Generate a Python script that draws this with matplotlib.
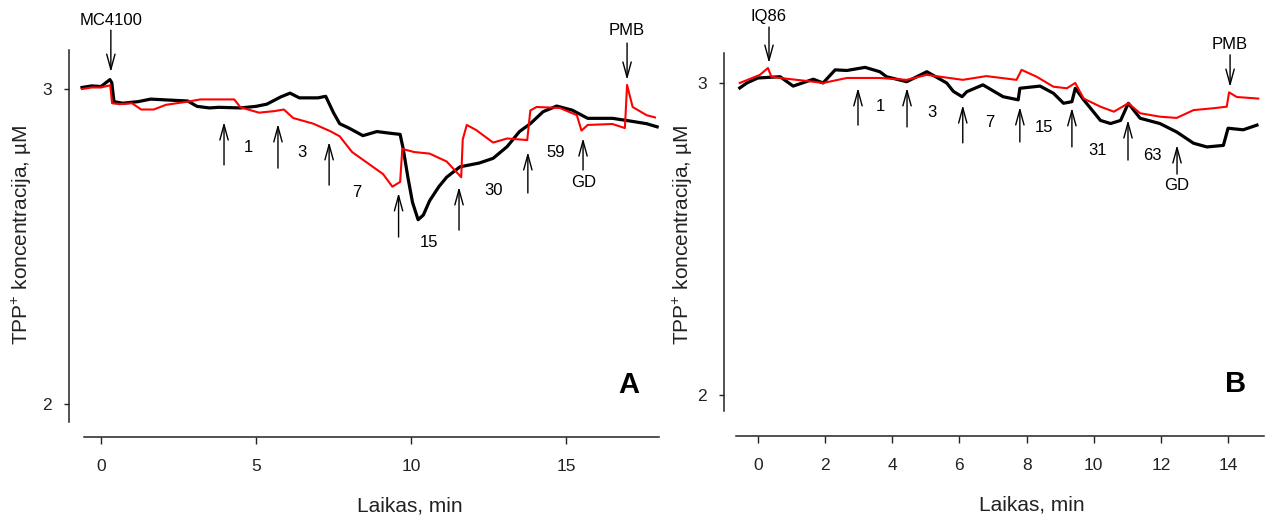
import matplotlib
matplotlib.use("Agg")
import matplotlib.pyplot as plt

plt.rcParams['font.family'] = ['Liberation Sans', 'DejaVu Sans']
plt.rcParams['mathtext.fontset'] = 'custom'
plt.rcParams['mathtext.rm'] = 'Liberation Sans'
plt.rcParams['mathtext.it'] = 'Liberation Sans:italic'

# ---------------- Panel A data (time, min ; TPP+ concentration, uM) ----------------
a_black_t = [-0.61, -0.3, 0.0, 0.29, 0.35, 0.42, 0.7, 1.2, 1.6, 2.2, 2.8, 3.1, 3.5, 3.8, 4.5, 5.0,
             5.35, 5.8, 6.1, 6.4, 7.0, 7.25, 7.5, 7.7, 8.0, 8.45, 8.9, 9.3, 9.65, 9.75, 9.9, 10.05,
             10.23, 10.4, 10.6, 10.9, 11.15, 11.58, 12.2, 12.65, 13.1, 13.5, 13.85, 14.26, 14.7,
             15.2, 15.7, 16.5, 16.97, 17.6, 17.94]
a_black_v = [3.005, 3.01, 3.008, 3.03, 3.02, 2.96, 2.955, 2.96, 2.968, 2.965, 2.962, 2.945, 2.94,
             2.942, 2.94, 2.945, 2.952, 2.975, 2.987, 2.972, 2.972, 2.977, 2.925, 2.89, 2.876,
             2.852, 2.865, 2.86, 2.856, 2.81, 2.72, 2.64, 2.585, 2.6, 2.645, 2.69, 2.72, 2.753,
             2.765, 2.78, 2.817, 2.865, 2.89, 2.928, 2.946, 2.933, 2.907, 2.907, 2.90, 2.89, 2.88]
a_red_t = [-0.61, -0.3, 0.0, 0.3, 0.36, 0.6, 1.0, 1.3, 1.7, 2.1, 2.8, 3.2, 4.3, 4.5, 5.1, 5.6,
           5.9, 6.2, 6.85, 7.4, 7.7, 8.1, 8.6, 9.1, 9.4, 9.65, 9.72, 10.1, 10.6, 11.15, 11.5,
           11.62, 11.67, 11.8, 12.1, 12.65, 13.1, 13.75, 13.85, 14.05, 14.8, 15.35, 15.5, 15.7,
           16.5, 16.9, 16.97, 17.15, 17.6, 17.87]
a_red_v = [3.0, 3.005, 3.005, 3.012, 2.955, 2.952, 2.955, 2.935, 2.935, 2.95, 2.96, 2.967, 2.967,
           2.942, 2.925, 2.93, 2.935, 2.908, 2.89, 2.866, 2.85, 2.80, 2.765, 2.73, 2.69, 2.705,
           2.81, 2.80, 2.795, 2.77, 2.733, 2.72, 2.84, 2.886, 2.87, 2.83, 2.843, 2.838, 2.932,
           2.943, 2.94, 2.917, 2.868, 2.886, 2.889, 2.876, 3.013, 2.943, 2.917, 2.91]

# event arrows panel A: time, label
a_down_t = [0.32, 16.97]
a_down_lbl = ['MC4100', 'PMB']
a_up_t = [3.97, 5.71, 7.36, 9.6, 11.55, 13.77, 15.55]
a_up_lbl = ['1', '3', '7', '15', '30', '59', 'GD']

# ---------------- Panel B data ----------------
b_black_t = [-0.54, -0.33, 0.0, 0.66, 1.05, 1.65, 1.94, 2.3, 2.65, 3.19, 3.63, 3.83, 4.43, 5.03,
             5.62, 5.82, 6.08, 6.22, 6.7, 7.3, 7.75, 7.8, 8.4, 8.8, 9.1, 9.35, 9.45, 9.7, 10.2,
             10.5, 10.8, 11.03, 11.38, 11.97, 12.47, 12.97, 13.37, 13.86, 14.0, 14.45, 14.86]
b_black_v = [2.984, 3.0, 3.016, 3.02, 2.99, 3.012, 3.0, 3.042, 3.04, 3.05, 3.036, 3.02, 3.004,
             3.036, 3.0, 2.973, 2.956, 2.972, 2.994, 2.956, 2.946, 2.983, 2.99, 2.967, 2.935,
             2.94, 2.983, 2.946, 2.88, 2.87, 2.88, 2.935, 2.887, 2.87, 2.843, 2.807, 2.795, 2.80,
             2.855, 2.85, 2.865]
b_red_t = [-0.54, 0.06, 0.3, 0.4, 0.66, 1.65, 1.94, 2.65, 3.63, 4.43, 5.03, 6.1, 6.8, 7.7, 7.85,
           8.3, 8.8, 9.2, 9.45, 9.7, 10.2, 10.6, 11.03, 11.38, 11.97, 12.47, 12.97, 13.56, 13.96,
           14.03, 14.26, 14.9]
b_red_v = [3.0, 3.026, 3.048, 3.02, 3.016, 3.004, 3.0, 3.016, 3.016, 3.01, 3.026, 3.01, 3.022,
           3.01, 3.042, 3.02, 2.988, 2.983, 3.0, 2.95, 2.924, 2.908, 2.935, 2.903, 2.892, 2.888,
           2.913, 2.919, 2.924, 2.97, 2.955, 2.95]

b_down_t = [0.33, 14.06]
b_down_lbl = ['IQ86', 'PMB']
b_up_t = [2.98, 4.44, 6.1, 7.8, 9.35, 11.02, 12.48]
b_up_lbl = ['1', '3', '7', '15', '31', '63', 'GD']

W, H = 1271, 518
fig = plt.figure(figsize=(W / 100, H / 100), dpi=100)


def px_rect(l, t, r, b):
    return [l / W, 1 - b / H, (r - l) / W, (b - t) / H]


def style_axes(ax, xlim, ylim, ybounds, xbounds, xticks):
    ax.set_xlim(*xlim)
    ax.set_ylim(*ylim)
    for s in ('top', 'right'):
        ax.spines[s].set_visible(False)
    ax.spines['left'].set_bounds(*ybounds)
    ax.spines['bottom'].set_bounds(*xbounds)
    for s in ('left', 'bottom'):
        ax.spines[s].set_linewidth(1.1)
        ax.spines[s].set_color('#222222')
    ax.set_yticks([2, 3])
    ax.set_yticklabels(['2', '3'])
    ax.set_xticks(xticks)
    ax.set_xticklabels([str(x) for x in xticks])
    ax.tick_params(axis='y', direction='out', length=3.5, width=1, pad=9, labelsize=12.5,
                   colors='#222222')
    ax.tick_params(axis='x', direction='out', length=5, width=1, pad=11, labelsize=12.5,
                   colors='#222222')
    ax.patch.set_alpha(0)


def arrows(ax, down_t, down_lbl, down_geom, up_t, up_lbl, up_geom):
    ap = dict(arrowstyle='->,head_length=1.1,head_width=0.3', lw=1.0, color='black',
              shrinkA=0, shrinkB=0, mutation_scale=10)
    for t, lbl, (tail, tip, ly) in zip(down_t, down_lbl, down_geom):
        ax.annotate('', xy=(t, tip), xytext=(t, tail), arrowprops=ap, annotation_clip=False)
        ax.text(t, ly, lbl, ha='center', va='center', fontsize=12, clip_on=False)
    for t, lbl, (tail, tip, lx, ly) in zip(up_t, up_lbl, up_geom):
        ax.annotate('', xy=(t, tip), xytext=(t, tail), arrowprops=ap, annotation_clip=False)
        ax.text(lx, ly, lbl, ha='center', va='center', fontsize=12, clip_on=False)


# ---------------- Panel A ----------------
axA = fig.add_axes(px_rect(69, 50, 659, 437))
style_axes(axA, (-1.03, 18.0), (1.895, 3.124), (1.943, 3.124), (-0.55, 18.0), [0, 5, 10, 15])
axA.plot(a_black_t, a_black_v, color='black', lw=2.3, solid_joinstyle='round')
axA.plot(a_red_t, a_red_v, color='#ff0000', lw=1.5, solid_joinstyle='round')
arrows(axA, a_down_t, a_down_lbl,
       [(3.187, 3.054, 3.219), (3.146, 3.029, 3.187)],
       a_up_t, a_up_lbl,
       [(2.759, 2.895, 4.77, 2.813), (2.749, 2.889, 6.48, 2.797), (2.695, 2.832, 8.26, 2.673),
        (2.530, 2.670, 10.58, 2.514), (2.552, 2.689, 12.65, 2.679), (2.670, 2.800, 14.68, 2.80),
        (2.743, 2.844, 15.58, 2.702)])
fig.text(629 / W, 1 - 385 / H, 'A', fontsize=21, fontweight='bold', ha='center', va='center')

# ---------------- Panel B ----------------
axB = fig.add_axes(px_rect(724, 53, 1264, 436))
style_axes(axB, (-1.01, 15.07), (1.869, 3.096), (1.949, 3.096), (-0.655, 15.07),
           [0, 2, 4, 6, 8, 10, 12, 14])
axB.plot(b_black_t, b_black_v, color='black', lw=2.3, solid_joinstyle='round')
axB.plot(b_red_t, b_red_v, color='#ff0000', lw=1.5, solid_joinstyle='round')
arrows(axB, b_down_t, b_down_lbl,
       [(3.179, 3.064, 3.212), (3.09, 2.987, 3.122)],
       b_up_t, b_up_lbl,
       [(2.865, 2.984, 3.66, 2.926), (2.859, 2.984, 5.19, 2.904), (2.808, 2.929, 6.91, 2.872),
        (2.811, 2.923, 8.52, 2.856), (2.795, 2.92, 10.12, 2.785), (2.753, 2.881, 11.76, 2.769),
        (2.708, 2.801, 12.48, 2.67)])
fig.text(1236 / W, 1 - 384 / H, 'B', fontsize=21, fontweight='bold', ha='center', va='center')

# ---------------- axis labels ----------------
ylabel = 'TPP$^{+}$ koncentracija, µM'
fig.text(22 / W, 1 - 235 / H, ylabel, rotation=90, fontsize=15, ha='center', va='center',
         color='#222222')
fig.text(683 / W, 1 - 235 / H, ylabel, rotation=90, fontsize=15, ha='center', va='center',
         color='#222222')
fig.text(410 / W, 1 - 506 / H, 'Laikas, min', fontsize=15, ha='center', va='center',
         color='#222222')
fig.text(1032 / W, 1 - 505 / H, 'Laikas, min', fontsize=15, ha='center', va='center',
         color='#222222')

fig.savefig('out.png', dpi=100)
